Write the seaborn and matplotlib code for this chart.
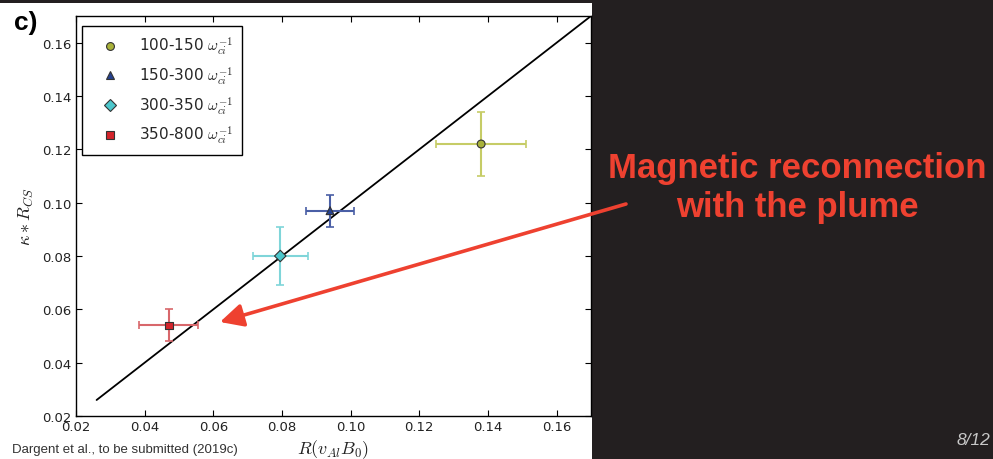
import matplotlib
matplotlib.use("Agg")
import matplotlib.pyplot as plt
from matplotlib.patches import Rectangle, FancyArrowPatch
import seaborn as sns
import pandas as pd

# Time windows (in inverse ion cyclotron frequency) and the measured quantities
groups = ["100-150", "150-300", "300-350", "350-800"]
r_val = [0.138, 0.094, 0.0795, 0.047]       # R(v_Al B_0)
r_err = [0.013, 0.007, 0.008, 0.0086]
k_val = [0.122, 0.097, 0.080, 0.054]        # kappa * R_CS
k_err = [0.012, 0.006, 0.011, 0.006]

# y = x reference line
line_x = [0.026, 0.17]
line_y = [0.026, 0.17]

marker_colors = ["#a9b23a", "#24408f", "#4cc7cc", "#d4242b"]
bar_colors = ["#c6cc66", "#4a5fa6", "#7fd5d9", "#d8676b"]
marker_shapes = ["o", "^", "D", "s"]
marker_sizes = [32, 32, 34, 30]

sns.set_style("ticks", {"xtick.direction": "in", "ytick.direction": "in"})
plt.rcParams["font.family"] = ["DejaVu Sans"]
plt.rcParams["mathtext.fontset"] = "cm"

W, H = 993, 460
fig = plt.figure(figsize=(W / 100, H / 100), dpi=100, facecolor="#231f20")

def fx(x):
    return x / W

def fy(y):
    return 1 - y / H

# white panel holding the figure
fig.add_artist(Rectangle((0, 0), fx(592), fy(4), transform=fig.transFigure,
                         facecolor="white", edgecolor="none", zorder=0))

ax = fig.add_axes([fx(76), fy(417), fx(591) - fx(76), fy(17) - fy(417)])
ax.set_facecolor("white")

labels = [g + r" $\omega_{ci}^{-1}$" for g in groups]
df = pd.DataFrame({"r": r_val, "k": k_val, "group": labels})

sns.lineplot(x=line_x, y=line_y, color="black", linewidth=1.3, ax=ax, zorder=2)

for i in range(len(groups)):
    ax.errorbar(r_val[i], k_val[i], xerr=r_err[i], yerr=k_err[i], fmt="none",
                ecolor=bar_colors[i], elinewidth=1.5, capsize=3, capthick=1.2,
                zorder=3)

sns.scatterplot(data=df, x="r", y="k", hue="group", style="group",
                palette=dict(zip(labels, marker_colors)),
                markers=dict(zip(labels, marker_shapes)),
                size="group", sizes=dict(zip(labels, marker_sizes)),
                edgecolor="#333333", linewidth=0.8, ax=ax, zorder=4, legend="full")

handles, hl = ax.get_legend_handles_labels()
seen = {}
for h, l in zip(handles, hl):
    if l in labels:
        seen.setdefault(l, h)
leg = ax.legend([seen[l] for l in labels], labels, loc="upper left",
                bbox_to_anchor=(6 / 515, 1 - 10 / 400), borderaxespad=0,
                fancybox=False, framealpha=1, edgecolor="black",
                fontsize=11, labelspacing=0.5, handlelength=2.4,
                handletextpad=0.7, borderpad=0.6, scatterpoints=1)
leg.get_frame().set_linewidth(1.0)

ax.set_xlim(0.02, 0.17)
ax.set_ylim(0.02, 0.17)
ax.set_xticks([0.02, 0.04, 0.06, 0.08, 0.10, 0.12, 0.14, 0.16])
ax.set_yticks([0.02, 0.04, 0.06, 0.08, 0.10, 0.12, 0.14, 0.16])
ax.set_xticklabels(["0.02", "0.04", "0.06", "0.08", "0.10", "0.12", "0.14", "0.16"])
ax.set_yticklabels(["0.02", "0.04", "0.06", "0.08", "0.10", "0.12", "0.14", "0.16"])
ax.tick_params(axis="both", which="both", direction="in", top=True, right=True,
               length=4, width=0.8, labelsize=9.5, pad=3, colors="black",
               labelcolor="#222222")
for s in ax.spines.values():
    s.set_visible(True)
    s.set_color("black")
    s.set_linewidth(1.0)
ax.set_xlabel("")
ax.set_ylabel("")

fig.text(fx(333), fy(450), r"$R(v_{Al}B_0)$", ha="center", va="center",
         fontsize=13, color="#222222")
fig.text(fx(26), fy(217), r"$\kappa * R_{CS}$", ha="center", va="center",
         rotation=90, fontsize=13, color="#222222")
fig.text(fx(14), fy(23), "c)", ha="left", va="center", fontsize=19,
         fontweight="bold", family=["Liberation Sans"], color="black")
fig.text(fx(12), fy(450), "Dargent et al., to be submitted (2019c)", ha="left",
         va="center", fontsize=9.5, family=["Liberation Sans"], color="#333333")

fig.text(fx(797), fy(188), "Magnetic reconnection\nwith the plume", ha="center",
         va="center", fontsize=25, fontweight="bold", family=["Liberation Sans"],
         color="#ee4130", linespacing=1.2)
fig.text(fx(990), fy(441), "8/12", ha="right", va="center", fontsize=12.5,
         style="italic", family=["Liberation Sans"], color="#c8c8c8")

arrow = FancyArrowPatch((fx(626), fy(205)), (fx(220), fy(323)),
                        transform=fig.transFigure, arrowstyle="-|>,head_length=10,head_width=5",
                        color="#ee4130", linewidth=2.6, mutation_scale=1.4,
                        shrinkA=0, shrinkB=0, zorder=10)
fig.add_artist(arrow)

fig.savefig("out.png", dpi=100, facecolor=fig.get_facecolor())
